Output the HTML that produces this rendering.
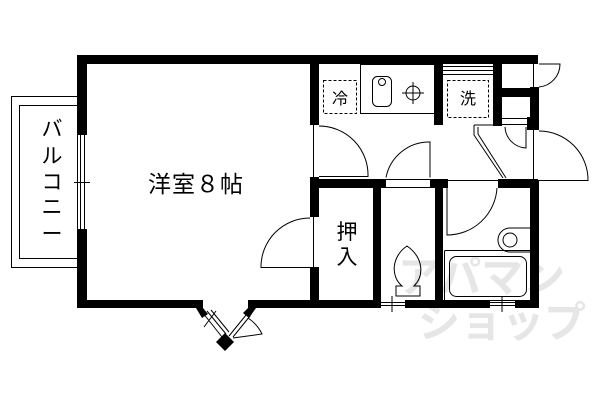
<!DOCTYPE html>
<html><head><meta charset="utf-8"><style>
html,body{margin:0;padding:0;background:#fff;width:600px;height:400px;overflow:hidden}
svg{display:block}
text{font-family:"Liberation Sans","Noto Sans CJK JP",sans-serif;fill:#000}
</style></head><body>
<svg width="600" height="400" viewBox="0 0 600 400" xmlns="http://www.w3.org/2000/svg">
<g fill="#e6e6e6" font-size="42" font-weight="bold">
<text x="398" y="292" style="fill:#e6e6e6">アパマン</text>
<text x="418" y="337" style="fill:#e6e6e6">ショップ</text>
</g>
<g fill="none" stroke="#000" stroke-width="1">
<rect x="11.5" y="96.5" width="66" height="171"/>
<rect x="19.5" y="105.5" width="58" height="153"/>
</g>
<g fill="#000">
<rect x="77" y="55" width="461" height="9"/>
<rect x="77" y="55" width="10" height="80"/>
<rect x="77" y="229" width="10" height="79"/>
<rect x="77" y="300" width="126" height="8"/>
<rect x="248" y="300" width="133" height="8"/>
<rect x="405" y="300" width="85" height="8"/>
<rect x="515" y="300" width="23" height="8"/>
<rect x="310" y="55" width="9" height="70"/>
<rect x="310" y="177" width="9" height="40"/>
<rect x="310" y="267" width="9" height="41"/>
<rect x="310" y="179" width="76" height="9"/>
<rect x="430" y="179" width="18" height="9"/>
<rect x="498" y="179" width="40" height="9"/>
<rect x="373" y="188" width="8" height="112"/>
<rect x="435" y="188" width="8" height="112"/>
<rect x="434" y="64" width="9" height="61"/>
<rect x="493" y="64" width="9" height="62"/>
<rect x="502" y="88" width="28" height="9"/>
<rect x="527" y="117" width="3" height="13"/>
<rect x="530" y="87" width="9" height="43"/>
<rect x="530" y="180" width="9" height="128"/>
<!-- bottom door blocks -->
<polygon points="196,308 203,308 208,314 202,318"/>
<polygon points="248,308 256,308 249,318 243,313"/>
<polygon points="225,333 234,342 225,351 216,342"/>
</g>
<g fill="none" stroke="#000" stroke-width="1">
<line x1="80.5" y1="135" x2="80.5" y2="229"/><line x1="84.5" y1="135" x2="84.5" y2="229"/>
<line x1="74" y1="182.5" x2="90" y2="182.5"/>
<line x1="313.5" y1="125" x2="313.5" y2="177"/>
<line x1="313.5" y1="217" x2="313.5" y2="267"/>
<path d="M310,267.5 H261 A49,49 0 0 1 310,218"/>
<path d="M319,176.5 H368 A49,49 0 0 0 319,126"/>
<path d="M430,177.5 V142 A44,44 0 0 0 386,177.5 M386,179.5 H430 M386,187.5 H430"/>
<path d="M447,188 V235 A50,50 0 0 0 497,188 M448,180.5 H498"/>
<path d="M539,180.5 H588 A49,49 0 0 0 539,131"/>
<line x1="533.5" y1="130" x2="533.5" y2="180"/>
<path d="M539,87 A23,23 0 0 0 560,64 H539"/>
<line x1="533.5" y1="64" x2="533.5" y2="87"/>
<path d="M502,118.5 H527 M502,124.5 H527 M505,127 A22,22 0 0 0 526,148 V127"/>
<path d="M474,125 H493 M474,125 V135 L503,178 M478,127 V134 L506,178"/>
<path d="M443,66.5 H493 M443,70.5 H493 M443,74.5 H493"/>
<rect x="360.5" y="64.5" width="74" height="49"/>
<rect x="372.5" y="76.5" width="19" height="30" rx="5"/>
<circle cx="382" cy="82" r="3.5"/>
<circle cx="413" cy="93" r="7"/>
<path d="M413,82 V104 M402,93 H424"/>
<path d="M381,302.5 H405 M381,305.5 H405 M392,296 V312"/>
<path d="M490,302.5 H515 M490,305.5 H515 M502,296 V312"/>
<path d="M396,286 V296 H420 V286 H414 C424,276 424,258 407,246 C392,256 390,276 402,286 Z"/>
<rect x="444.5" y="250.5" width="86" height="50" rx="1"/>
<rect x="449.5" y="256.5" width="77" height="40" rx="7"/>
<path d="M530,228 H510 A12,12 0 0 0 510,252 H530"/>
<circle cx="510" cy="240" r="7"/>
<!-- bottom door lines -->
<path d="M203,313 L222,337 M207,311 L226,334 M211,310 L229,332 M204,327 L216,311"/>
<path d="M246,315 L229,336 M250,316 L233,337 M233,338 L262,334 A40,40 0 0 0 248,318"/>
</g>
<g fill="none" stroke="#000" stroke-width="1" stroke-dasharray="3,2">
<rect x="323.5" y="80.5" width="33" height="33"/>
<rect x="447.5" y="80.5" width="41" height="37"/>
</g>
<text x="196" y="192" font-size="23" text-anchor="middle" letter-spacing="1">洋室８帖</text>
<g font-size="21" text-anchor="middle">
<text x="52" y="136">バ</text>
<text x="52" y="163">ル</text>
<text x="52" y="189">コ</text>
<text x="52" y="214">ニ</text>
<text x="52" y="241">ー</text>
</g>
<text x="347" y="239" font-size="21" text-anchor="middle">押</text>
<text x="347" y="264" font-size="21" text-anchor="middle">入</text>
<text x="340" y="104" font-size="16" text-anchor="middle">冷</text>
<text x="468" y="104" font-size="16" text-anchor="middle">洗</text>
</svg>
</body></html>
